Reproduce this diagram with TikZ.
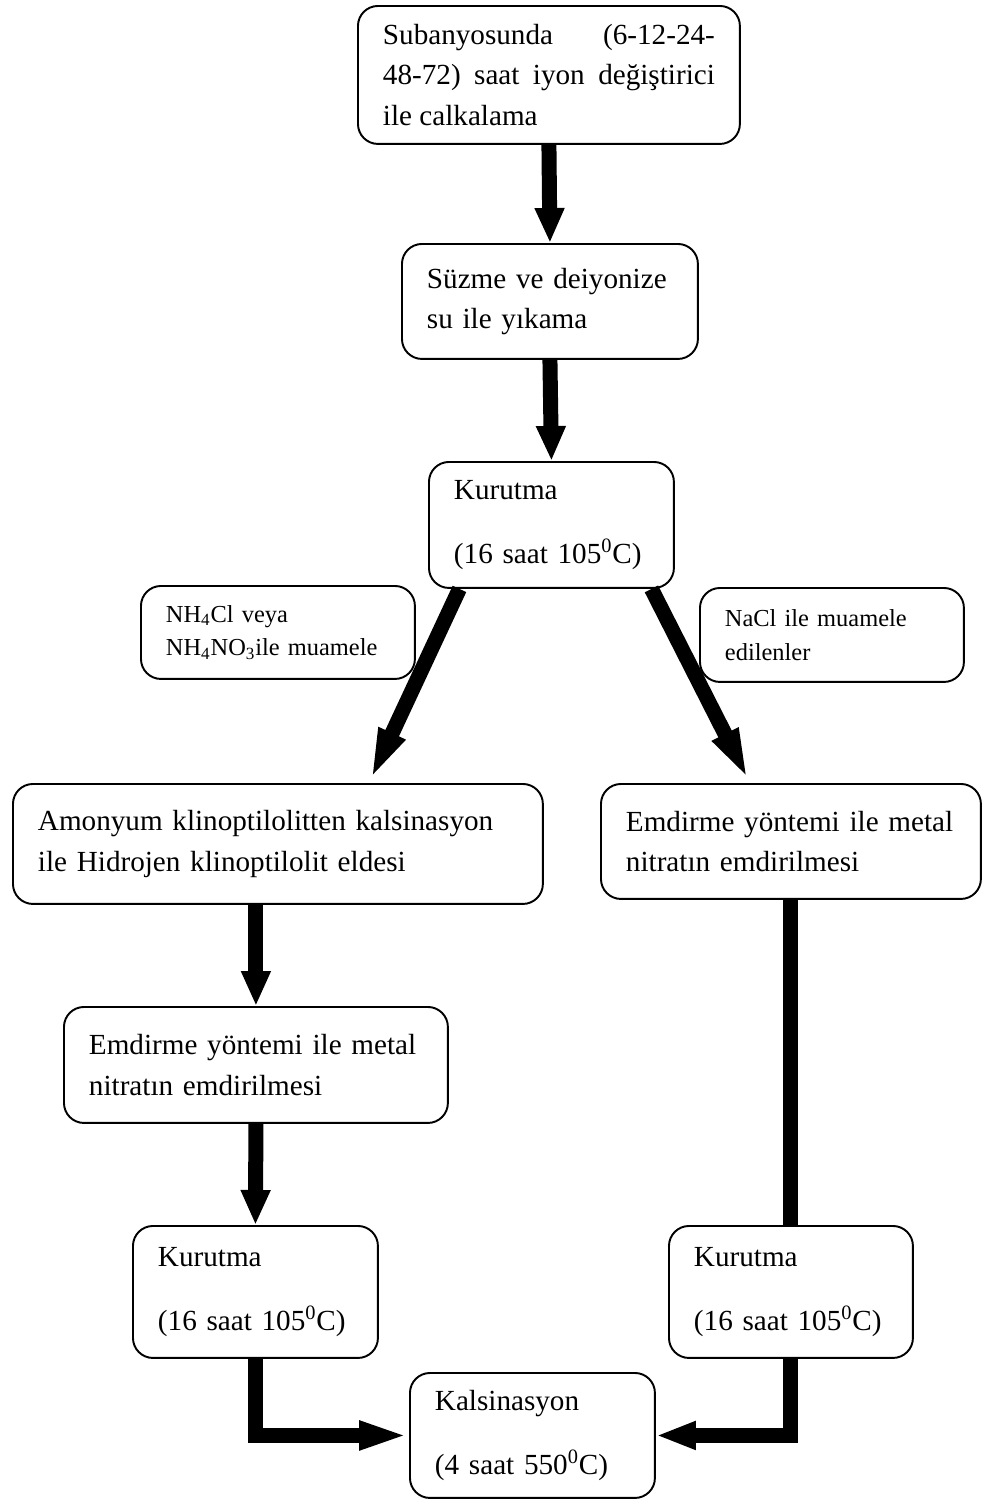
\documentclass[tikz,border=0pt]{standalone}
\usepackage{fontspec}
\setmainfont{Liberation Serif}
\usepackage{tikz}
\usetikzlibrary{arrows.meta,calc}
\newcommand{\stagefont}{\fontsize{16.6}{23}\selectfont}
\newcommand{\notefont}{\fontsize{13.9}{19.3}\selectfont}
\begin{document}
\begin{tikzpicture}[x=0.02cm,y=-0.02cm,
    stage/.style={draw,rounded corners=0.4cm,line width=1.1pt,inner xsep=0.5cm,inner ysep=0pt,
        align=left,anchor=north west,font=\stagefont},
    note/.style={stage,font=\notefont},
    flow/.style={line width=0.3cm,-{Triangle[length=0.7cm,width=0.55cm]}},
    flowline/.style={line width=0.3cm}]
                \useasboundingbox (0,0) rectangle (982,1501);
                \node[stage,align=justify,text width=6.64cm,minimum height=2.76cm] (soak) at (357,5)
                    {Subanyosunda (6-12-24-\linebreak 48-72) saat iyon değiştirici\linebreak ile calkalama};
                \node[stage,text width=4.92cm,minimum height=2.3cm] (wash) at (401,243)
                    {Süzme ve deiyonize\\su ile yıkama};
                \node[stage,text width=3.9cm,minimum height=2.52cm] (dryA) at (428,461)
                    {Kurutma\\[13.4pt](16 saat 105\textsuperscript{0}C)};
                \node[note,text width=4.48cm,minimum height=1.86cm] (nhnote) at (140,585)
                    {NH\textsubscript{4}Cl veya\\NH\textsubscript{4}NO\textsubscript{3}ile muamele};
                \node[note,text width=4.28cm,minimum height=1.88cm] (nanote) at (699,587)
                    {NaCl ile muamele\\edilenler};
                \node[stage,text width=9.6cm,minimum height=2.4cm] (hform) at (12,783)
                    {Amonyum klinoptilolitten kalsinasyon\\ile Hidrojen klinoptilolit eldesi};
                \node[stage,text width=6.6cm,minimum height=2.3cm] (impR) at (600,783)
                    {Emdirme yöntemi ile metal\\nitratın emdirilmesi};
                \node[stage,text width=6.68cm,minimum height=2.32cm] (impL) at (63,1006)
                    {Emdirme yöntemi ile metal\\nitratın emdirilmesi};
                \node[stage,text width=3.9cm,minimum height=2.64cm] (dryL) at (132,1225)
                    {Kurutma\\[13.4pt](16 saat 105\textsuperscript{0}C)};
                \node[stage,text width=3.88cm,minimum height=2.64cm] (dryR) at (668,1225)
                    {Kurutma\\[13.4pt](16 saat 105\textsuperscript{0}C)};
                \node[stage,text width=3.9cm,minimum height=2.5cm] (calcine) at (409,1372)
                    {Kalsinasyon\\[13.4pt](4 saat 550\textsuperscript{0}C)};

                \draw[flow] (soak.south) -- (wash.north);
                \draw[flow] (wash.south) -- (dryA.north);
                \draw[flow,-{Triangle[length=1.1cm,width=0.5cm]}] ($(dryA.south)+(-92,0)$) -- ($(hform.north)+(91,0)$);
                \draw[flow,-{Triangle[length=1.1cm,width=0.5cm]}] ($(dryA.south)+(100,0)$) -- ($(impR.north)+(-41,0)$);
                \draw[flow] (impL.north |- hform.south) -- (impL.north);
                \draw[flow] (impL.south) -- (dryL.north);
                \draw[flowline] (dryR.north |- impR.south) -- (dryR.north);
                \draw[flow,-{Triangle[length=1cm,width=0.52cm]}] (dryL.south) |- (calcine.west);
                \draw[flow,-{Triangle[length=0.8cm,width=0.52cm]}] (dryR.south) |- (calcine.east);

            \end{tikzpicture}
\end{document}
